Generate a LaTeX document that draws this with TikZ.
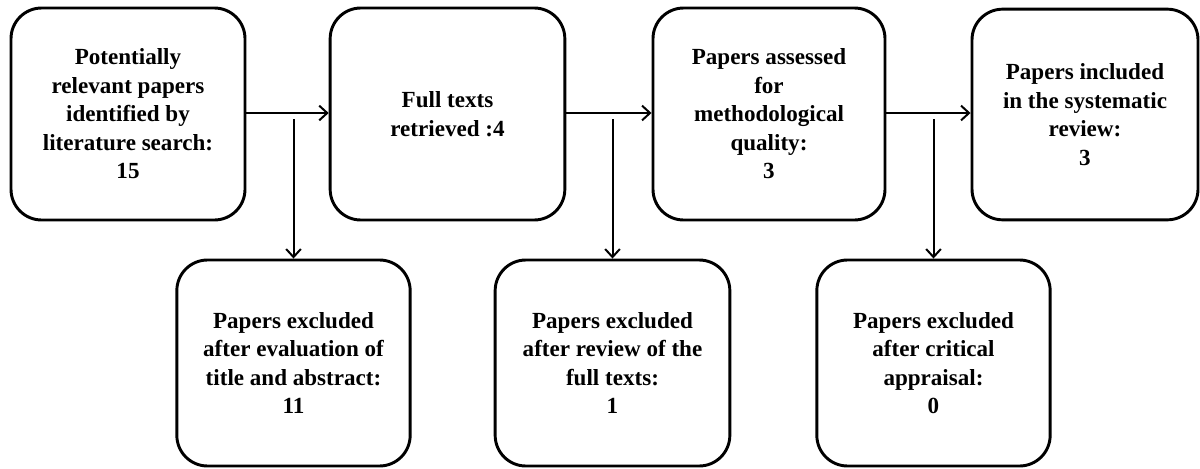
\documentclass[tikz,border=0pt]{standalone}
\usepackage{fontspec}
\setmainfont{Liberation Serif}
\usetikzlibrary{arrows.meta}
\begin{document}
\begin{tikzpicture}[x=0.75pt,y=-0.75pt,
  flowbox/.style={draw, line width=2.2pt, rounded corners=23pt, align=center,
    font=\fontsize{17.3pt}{21.4pt}\selectfont\bfseries, inner sep=0pt},
  conn/.style={line width=1.5pt, -{Straight Barb[length=6pt,width=11pt,line width=1.5pt]}}]
\useasboundingbox (0,0) rectangle (1200,468);
\node[flowbox, minimum width=175.5pt, minimum height=159pt] (b1) at (128,114)
  {Potentially\\relevant papers\\identified by\\literature search:\\15};
\node[flowbox, minimum width=176pt, minimum height=159pt] (b2) at (447.5,114)
  {Full texts\\retrieved :4};
\node[flowbox, minimum width=174pt, minimum height=159pt] (b3) at (769,114)
  {Papers assessed\\for\\methodological\\quality:\\3};
\node[flowbox, minimum width=169.5pt, minimum height=158pt] (b4) at (1085,114.5)
  {Papers included\\in the systematic\\review:\\3};
\node[flowbox, minimum width=175pt, minimum height=154.5pt] (b5) at (293.5,363)
  {Papers excluded\\after evaluation of\\title and abstract:\\11};
\node[flowbox, minimum width=176pt, minimum height=154.5pt] (b6) at (612.5,363)
  {Papers excluded\\after review of the\\full texts:\\1};
\node[flowbox, minimum width=175pt, minimum height=154.5pt] (b7) at (933.5,363)
  {Papers excluded\\after critical\\appraisal:\\0};
\coordinate (s5) at (293.5,119);
\coordinate (s6) at (612.5,119);
\coordinate (s7) at (933.5,119);
\draw[conn] (b1.east |- 0,113) -- (b2.west |- 0,113);
\draw[conn] (b2.east |- 0,113) -- (b3.west |- 0,113);
\draw[conn] (b3.east |- 0,113) -- (b4.west |- 0,113);
\draw[conn] (s5) -- (b5.north);
\draw[conn] (s6) -- (b6.north);
\draw[conn] (s7) -- (b7.north);
\end{tikzpicture}
\end{document}
